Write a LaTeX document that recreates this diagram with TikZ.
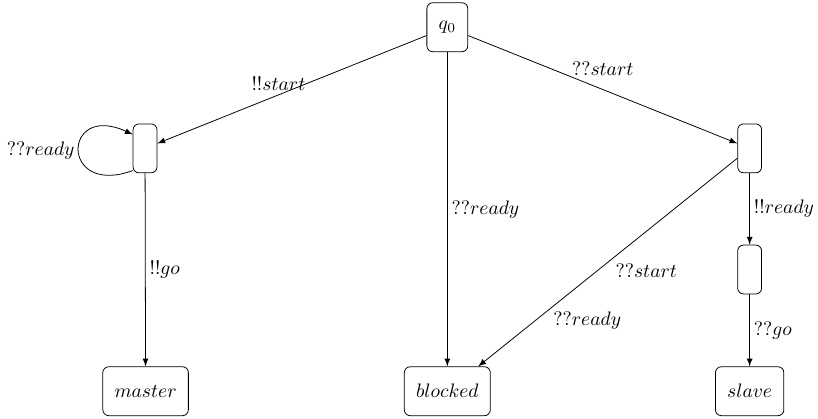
\documentclass[tikz,border=0pt]{standalone}
\usetikzlibrary{arrows}

\begin{document}
\begin{tikzpicture}[>=latex,
    state/.style={draw,rounded corners=3pt,minimum height=0.88cm,
      minimum width=0.43cm,inner xsep=6pt},
    lab/.style={inner sep=2pt}]
  \useasboundingbox (0,0) rectangle (14.72,7.54);
  % states
  \node[state] (q0) at (8.05,7.05) {$q_0$};
  \node[state] (l) at (2.61,4.87) {};
  \node[state] (r) at (13.49,4.87) {};
  \node[state] (r2) at (13.49,2.69) {};
  \node[state] (master) at (2.62,0.5) {$master$};
  \node[state] (blocked) at (8.05,0.5) {$blocked$};
  \node[state] (slave) at (13.49,0.5) {$slave$};
  % transitions
  \draw[->] (q0) -- node[lab,pos=0.55,above] {$!!start$} (l);
  \draw[->] (q0) -- node[lab,above,yshift=0.18cm] {$??start$} (r);
  \draw[->] (q0) -- node[lab,right] {$??ready$} (blocked);
  \draw[->] ([yshift=-0.4cm]l.west) to[out=200,in=155,distance=1.4cm]
    node[lab,left] {$??ready$} ([yshift=0.25cm]l.west);
  \draw[->] (l) -- node[lab,right] {$!!go$} (master);
  \draw[->] (r) -- node[lab,right] {$!!ready$} (r2);
  \draw[->] (r2) -- node[lab,right] {$??go$} (slave);
  \draw[->] (r) -- node[lab,pos=0.54,right,xshift=0.25cm] {$??start$}
    node[lab,pos=0.78,right,xshift=0.25cm] {$??ready$} (blocked);
\end{tikzpicture}
\end{document}
